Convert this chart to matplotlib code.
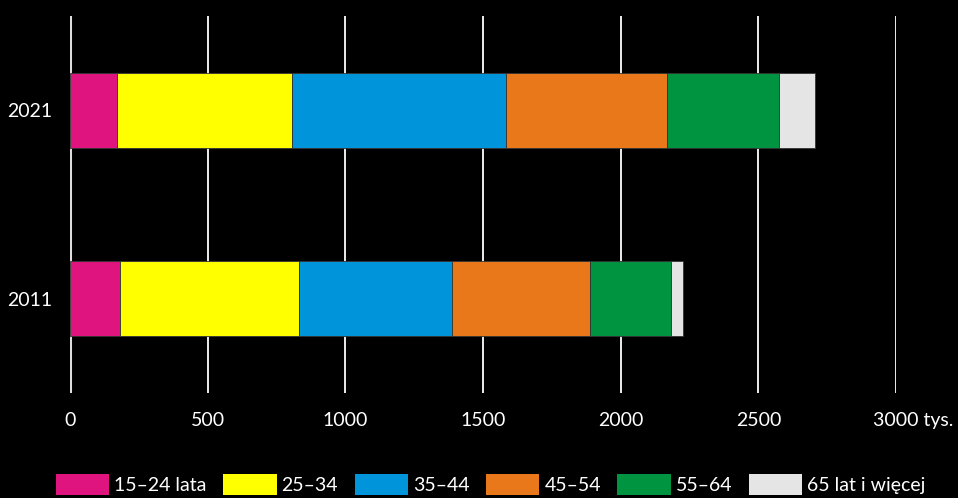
import matplotlib
matplotlib.use("Agg")
import matplotlib.pyplot as plt
from matplotlib.patches import Patch
import matplotlib.transforms as mtransforms

years = ["2011", "2021"]
groups = ["15–24 lata", "25–34", "35–44", "45–54", "55–64", "65 lat i więcej"]
values = {
    "15–24 lata":      [182, 172],
    "25–34":           [649, 635],
    "35–44":           [558, 777],
    "45–54":           [498, 585],
    "55–64":           [294, 407],
    "65 lat i więcej": [44, 128],
}
colors = ["#e0147f", "#ffff00", "#0095db", "#e8781a", "#009340", "#e5e5e5"]
xticks = [0, 500, 1000, 1500, 2000, 2500, 3000]
xticklabels = ["0", "500", "1000", "1500", "2000", "2500", "3000 tys."]

plt.rcParams['font.family'] = ['Lato', 'DejaVu Sans']
W, H = 958, 498
fig = plt.figure(figsize=(W / 100, H / 100), dpi=100, facecolor="black")
ax = fig.add_axes([70 / W, 1 - 393 / H, (896 - 70) / W, (393 - 16) / H])
ax.set_facecolor("black")

ypos = list(range(len(years)))
left = [0] * len(years)
for g, c in zip(groups, colors):
    ax.barh(ypos, values[g], left=left, height=0.4, color=c,
            edgecolor="#333333", linewidth=0.6, zorder=3)
    left = [l + v for l, v in zip(left, values[g])]

ax.set_xlim(0, 3000)
ax.set_ylim(-0.5, 1.5)
ax.set_yticks(ypos)
ax.set_yticklabels(years)
ax.set_xticks(xticks)
ax.set_xticklabels(xticklabels)
for lbl in ax.get_xticklabels():
    if "tys" in lbl.get_text():
        lbl.set_horizontalalignment("left")
for x in xticks:
    if x == 0:
        ax.axvline(x, color="#dddddd", lw=2.2, zorder=2)
    else:
        ax.axvline(x, color="white", lw=1.3, zorder=2)

ax.tick_params(axis="both", length=0, colors="white", labelsize=14, pad=14)
ax.tick_params(axis="y", pad=13)
for s in ax.spines.values():
    s.set_visible(False)

fig.canvas.draw()
lbl = ax.get_xticklabels()[-1]
lbl.set_transform(lbl.get_transform() + mtransforms.ScaledTranslation(-23 / 100, 0, fig.dpi_scale_trans))

handles = [Patch(facecolor=c, edgecolor="none") for c in colors]
leg = fig.legend(handles, groups, loc="upper left", bbox_to_anchor=(56 / W, 1 - 474 / H),
                 ncol=6, frameon=False, fontsize=14, handlelength=2.75, handleheight=1.3,
                 handletextpad=0.25, columnspacing=0.85, borderpad=0, borderaxespad=0)
for t in leg.get_texts():
    t.set_color("white")

fig.savefig("out.png", dpi=100, facecolor="black")
